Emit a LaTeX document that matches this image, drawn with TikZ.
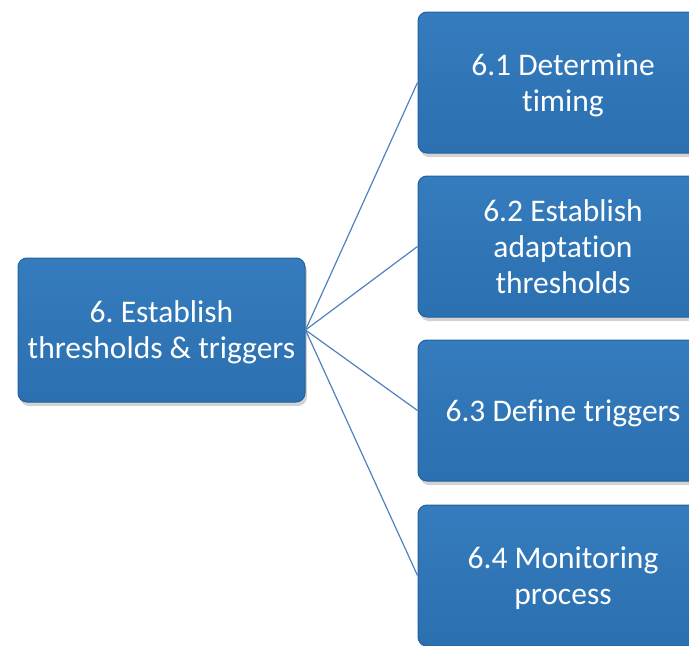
\documentclass[tikz,border=0pt]{standalone}
\usepackage{fontspec}
\setmainfont[RawFeature={-liga}]{Carlito}
\frenchspacing
\usetikzlibrary{shadows}
\definecolor{boxblue}{HTML}{2B70B0}
\definecolor{boxtop}{HTML}{357CBE}
\definecolor{boxedge}{HTML}{22609A}
\definecolor{linkblue}{HTML}{4F81BD}
\tikzset{
  bloc/.style={rectangle, rounded corners=9pt, draw=boxedge, line width=1pt,
    top color=boxtop, bottom color=boxblue, text=white, align=center,
    font=\fontsize{31.5}{36}\selectfont, inner sep=0pt, text depth=-2pt,
    drop shadow={shadow xshift=2pt, shadow yshift=-4pt, opacity=0.35}},
  lien/.style={draw=linkblue, line width=1.2pt}
}
\begin{document}
\begin{tikzpicture}[x=1pt,y=-1pt]
\useasboundingbox (0,0) rectangle (689,646);
\clip (0,0) rectangle (689,646);

% bloc de gauche
\node[bloc, minimum width=287pt, minimum height=144pt] (root) at (161.5,330)
  {6. Establish\\thresholds \& triggers};

% blocs de droite
\node[bloc, minimum width=290pt, minimum height=141pt] (t1) at (563,82.5)
  {6.1 Determine\\timing};
\node[bloc, minimum width=290pt, minimum height=141pt] (t2) at (563,246.5)
  {6.2 Establish\\adaptation\\thresholds};
\node[bloc, minimum width=290pt, minimum height=141pt] (t3) at (563,410.5)
  {6.3 Define triggers};
\node[bloc, minimum width=290pt, minimum height=141pt] (t4) at (563,575.5)
  {6.4 Monitoring\\process};

% liens
\foreach \i in {1,...,4} {
  \draw[lien] (root.east) -- (t\i.west);
}
\end{tikzpicture}
\end{document}
